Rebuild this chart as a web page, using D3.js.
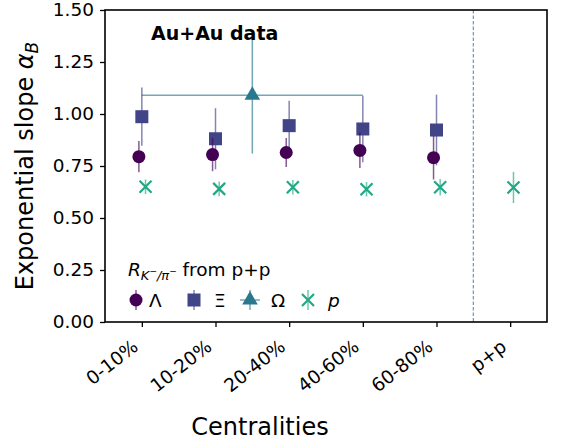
<!DOCTYPE html>
<html><head><meta charset="utf-8">
<script src="https://cdn.jsdelivr.net/npm/d3@7"></script>
<style>body{margin:0;background:#fff}text{font-family:"DejaVu Sans",sans-serif}</style>
</head><body><svg id="c" width="564" height="444"></svg>
<script>
const categories = ["0-10%","10-20%","20-40%","40-60%","60-80%","p+p"];
const yTicks = [0,0.25,0.5,0.75,1.0,1.25,1.5];
const lambdaVals = [0.795,0.805,0.815,0.825,0.79];
const lambdaErr  = [0.075,0.08,0.07,0.085,0.105];
const xiVals = [0.987,0.881,0.944,0.928,0.923];
const xiErr  = [0.14,0.147,0.12,0.16,0.17];
const omegaX = [1.5], omegaVals = [1.09], omegaErr = [0.28], omegaXErr = [1.5];
const pVals = [0.65,0.64,0.648,0.638,0.648,0.647];
const pErr  = [0.035,0.035,0.035,0.035,0.04,0.075];
const colors = {lambda:"#440154", xi:"#414487", omega:"#2a788e", p:"#22a884"};

const svg = d3.select("#c");
const L=105,R=547,T=10,B=322;
const x = d3.scaleLinear().domain([-0.5,5.5]).range([L,R]);
const y = d3.scaleLinear().domain([0,1.5]).range([B,T]);

// dashed separator
svg.append("line").attr("x1",x(4.5)).attr("x2",x(4.5)).attr("y1",T).attr("y2",B)
  .attr("stroke","#5b9bd0").attr("stroke-width",1.2).attr("stroke-dasharray","3.5,2");

// axes
const ya = svg.append("g").attr("transform",`translate(${L},0)`)
  .call(d3.axisLeft(y).tickValues(yTicks).tickFormat(d3.format(".2f")).tickSize(5).tickPadding(6));
const xa = svg.append("g").attr("transform",`translate(0,${B})`)
  .call(d3.axisBottom(x).tickValues(d3.range(categories.length)).tickFormat(i=>categories[i]).tickSize(5));
[ya,xa].forEach(g=>{g.select(".domain").remove();g.selectAll("line").attr("stroke","#000").attr("stroke-width",1.3);
  g.selectAll("text").attr("font-size",18.5).attr("fill","#000").attr("font-family","DejaVu Sans");});
xa.selectAll("text").attr("text-anchor","end").attr("y",0).attr("dy",0)
  .attr("transform",d=>`translate(-3,27) rotate(-38)`);

svg.append("rect").attr("x",L).attr("y",T).attr("width",R-L).attr("height",B-T)
  .attr("fill","none").attr("stroke","#000").attr("stroke-width",1.6);

const plot = svg.append("g");
function vbar(xv,v,e,col){
  plot.append("line").attr("x1",x(xv)).attr("x2",x(xv)).attr("y1",y(v-e)).attr("y2",y(v+e))
    .attr("stroke",col).attr("stroke-width",1.5).attr("stroke-opacity",0.65);
}
// Omega
omegaVals.forEach((v,i)=>{
  plot.append("line").attr("x1",x(omegaX[i]-omegaXErr[i])).attr("x2",x(omegaX[i]+omegaXErr[i]))
    .attr("y1",y(v)).attr("y2",y(v)).attr("stroke",colors.omega).attr("stroke-width",1.5).attr("stroke-opacity",0.65);
  vbar(omegaX[i],v,omegaErr[i],colors.omega);
});
// Xi
xiVals.forEach((v,i)=>{ vbar(i+0.0,v,xiErr[i],colors.xi);
  plot.append("rect").attr("x",x(i+0.0)-6.5).attr("y",y(v)-6.5).attr("width",13).attr("height",13).attr("fill",colors.xi);});
// Lambda
lambdaVals.forEach((v,i)=>{ vbar(i-0.04,v,lambdaErr[i],colors.lambda);
  plot.append("circle").attr("cx",x(i-0.04)).attr("cy",y(v)).attr("r",6.5).attr("fill",colors.lambda);});
// Omega marker
const tri = d3.symbol().type(d3.symbolTriangle).size(105);
omegaVals.forEach((v,i)=>{
  plot.append("path").attr("d",tri()).attr("transform",`translate(${x(omegaX[i])},${y(v)})`).attr("fill",colors.omega);});
// p
function xMark(g,cx,cy,col){
  g.append("path").attr("d",`M${cx-6},${cy-6}L${cx+6},${cy+6}M${cx-6},${cy+6}L${cx+6},${cy-6}`)
   .attr("stroke",col).attr("stroke-width",2.2).attr("fill","none");
}
pVals.forEach((v,i)=>{ const xv = i<5 ? i+0.05 : i+0.045;
  vbar(xv,v,pErr[i],colors.p); xMark(plot,x(xv),y(v),colors.p);});

// text
svg.append("text").attr("x",151).attr("y",40).attr("font-size",19).attr("font-weight","bold").text("Au+Au data");

// legend
const lg = svg.append("g");
const tt = lg.append("text").attr("x",128).attr("y",276).attr("font-size",18.5);
tt.append("tspan").attr("font-style","italic").text("R");
tt.append("tspan").attr("font-size",13).attr("dy",4).attr("font-style","italic").text("K");
tt.append("tspan").attr("font-size",9).attr("dy",-6).text("−");
tt.append("tspan").attr("font-size",13).attr("dy",6).attr("font-style","italic").text("/π");
tt.append("tspan").attr("font-size",9).attr("dy",-6).text("−");
tt.append("tspan").attr("dy",2).text(" from p+p");
const ly=300;
function lbar(cx,col){lg.append("line").attr("x1",cx).attr("x2",cx).attr("y1",ly-10).attr("y2",ly+10)
  .attr("stroke",col).attr("stroke-width",1.5).attr("stroke-opacity",0.65);}
lbar(136,colors.lambda); lg.append("circle").attr("cx",136).attr("cy",ly).attr("r",6.5).attr("fill",colors.lambda);
lg.append("text").attr("x",149).attr("y",ly+7).attr("font-size",18.5).text("Λ");
lbar(194,colors.xi); lg.append("rect").attr("x",187.5).attr("y",ly-6.5).attr("width",13).attr("height",13).attr("fill",colors.xi);
lg.append("text").attr("x",214).attr("y",ly+7).attr("font-size",18.5).text("Ξ");
lbar(250,colors.omega); lg.append("line").attr("x1",240).attr("x2",260).attr("y1",ly).attr("y2",ly).attr("stroke",colors.omega).attr("stroke-width",1.5).attr("stroke-opacity",0.65);
lg.append("path").attr("d",tri()).attr("transform",`translate(250,${ly})`).attr("fill",colors.omega);
lg.append("text").attr("x",271).attr("y",ly+7).attr("font-size",18.5).text("Ω");
lbar(308,colors.p); xMark(lg,308,ly,colors.p);
lg.append("text").attr("x",328).attr("y",ly+7).attr("font-size",18.5).attr("font-style","italic").text("p");

// axis labels
svg.append("text").attr("x",260).attr("y",435).attr("text-anchor","middle").attr("font-size",24).text("Centralities");
const yl = svg.append("text").attr("transform","translate(33,166) rotate(-90)").attr("text-anchor","middle").attr("font-size",24);
yl.append("tspan").text("Exponential slope ");
yl.append("tspan").attr("font-style","italic").text("α");
yl.append("tspan").attr("font-style","italic").attr("font-size",17).attr("dy",5).text("B");
</script></body></html>
